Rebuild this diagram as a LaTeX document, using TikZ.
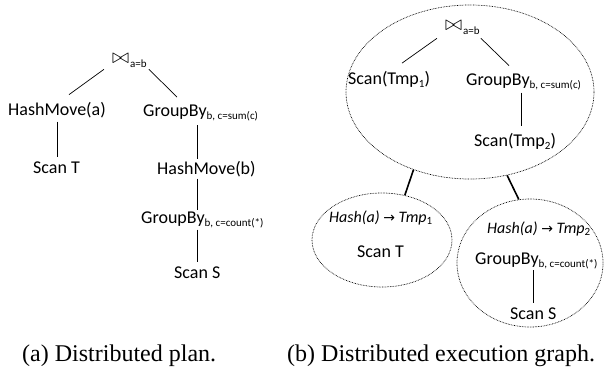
\documentclass[tikz,border=0pt]{standalone}
\usepackage{graphicx}
\usepackage{fontspec}
\setmainfont{Carlito}
\newfontfamily\capfont{Liberation Serif}
\newfontfamily\symfont{DejaVu Sans}
\usetikzlibrary{shapes.geometric}
\newcommand{\lowsub}[1]{\raisebox{-0.35ex}{\fontsize{11}{11}\selectfont #1}}
\newcommand{\bowt}{\raisebox{0.5pt}{\resizebox{17pt}{!}{$\bowtie$}}\hspace{1pt}}
\newcommand{\rarr}{{\symfont\fontsize{14}{14}\selectfont\upshape →}}
\begin{document}
\begin{tikzpicture}[x=1pt,y=-1pt,
  lbl/.style={inner sep=0pt, anchor=base west, font=\fontsize{18}{20}\selectfont},
  hlbl/.style={inner sep=0pt, anchor=base west, font=\fontsize{16}{20}\selectfont\itshape},
  caplbl/.style={inner sep=0pt, anchor=base west, font=\capfont\fontsize{24}{26}\selectfont},
  edge/.style={draw=black, line width=0.7pt},
  thickedge/.style={draw=black, line width=1.6pt},
  region/.style={ellipse, draw=black, line width=0.7pt, dash pattern=on 0.7pt off 0.9pt, inner sep=0pt}]
\useasboundingbox[fill=white] (0,0) rectangle (605,375);
% ---------- (a) distributed plan ----------
\node[lbl] (j1) at (112,64) {\bowt\lowsub{a=b}};
\node[lbl] (hm1) at (8,115) {HashMove(a)};
\node[lbl] (sT) at (33,173) {Scan T};
\node[lbl] (gb1) at (143,116) {GroupBy\lowsub{b, c=sum(c)}};
\node[lbl] (hm2) at (157,174) {HashMove(b)};
\node[lbl] (gb2) at (141,223) {GroupBy\lowsub{b, c=count(*)}};
\node[lbl] (sS) at (174,278) {Scan S};
\draw[edge] ([shift={(-8,2)}]j1.south west) -- ([shift={(12,-7)}]hm1.north);
\draw[edge] ([shift={(2,2)}]j1.south east) -- ([shift={(34,-7)}]gb1.north west);
\draw[edge] ([shift={(49,4)}]hm1.south west) -- ([shift={(24,-4)}]sT.north west);
\draw[edge] ([shift={(23,-2)}]sS.north west |- hm2.north) -- ([shift={(23,4)}]sS.north west |- gb1.south);
\draw[edge] ([shift={(23,2)}]sS.north west |- hm2.south) -- ([shift={(23,-1)}]sS.north west |- gb2.north);
\draw[edge] ([shift={(23,2)}]sS.north west |- gb2.south) -- ([shift={(23,-4)}]sS.north west);
% ---------- (b) distributed execution graph ----------
\node[region, minimum width=248, minimum height=174] (E0) at (470,92) {};
\node[region, minimum width=140, minimum height=94] (E1) at (382,240) {};
\node[region, minimum width=146, minimum height=128] (E2) at (530,263) {};
\node[lbl] (j2) at (445,31) {\bowt\lowsub{a=b}};
\node[lbl] (st1) at (348,84) {Scan(Tmp\lowsub{1})};
\node[lbl] (gb3) at (466,85) {GroupBy\lowsub{b, c=sum(c)}};
\node[lbl] (st2) at (474,146) {Scan(Tmp\lowsub{2})};
\draw[edge] ([shift={(-8,4)}]j2.south west) -- ([shift={(54,-7.5)}]st1.north west);
\draw[edge] ([shift={(1,4)}]j2.south east) -- ([shift={(43,-7.5)}]gb3.north west);
\draw[edge] ([shift={(47,-40)}]st2.north west) -- ([shift={(47,-7)}]st2.north west);
\node[hlbl] (h1) at (329,222) {Hash(a) \rarr{} Tmp\lowsub{\upshape 1}};
\node[lbl] (sT2) at (357,257) {Scan T};
\node[hlbl] (h2) at (487,233) {Hash(a) \rarr{} Tmp\lowsub{\upshape 2}};
\node[lbl] (gb4) at (475,264) {GroupBy\lowsub{b, c=count(*)}};
\node[lbl] (sS2) at (510,319) {Scan S};
\draw[edge] ([shift={(23,-37)}]sS2.north west) -- ([shift={(23,-4)}]sS2.north west);
\draw[thickedge] (E0.234) -- (E1.63);
\draw[thickedge] (E0.294) -- (E2.100);
% ---------- captions ----------
\node[caplbl] (capa) at (22,361) {(a) Distributed plan.};
\node[caplbl] (capb) at (287,361) {(b) Distributed execution graph.};
\end{tikzpicture}
\end{document}
